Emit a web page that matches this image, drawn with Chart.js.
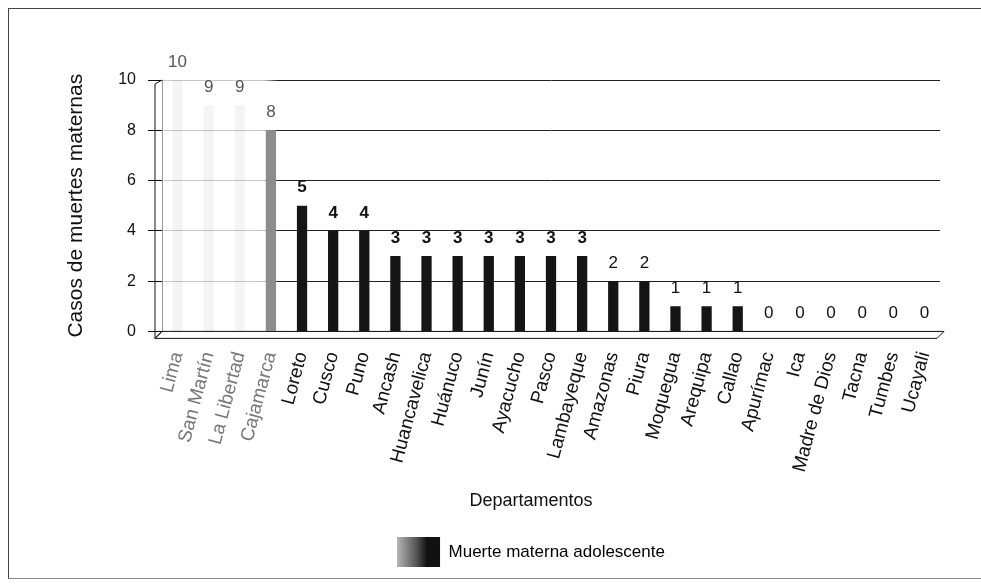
<!DOCTYPE html>
<html><head><meta charset="utf-8">
<script src="https://cdn.jsdelivr.net/npm/chart.js@4"></script>
<style>
html,body{margin:0;padding:0;background:#fff;overflow:hidden;width:981px;height:585px;}
#wrap{position:absolute;left:0;top:0;width:981px;height:585px;overflow:hidden;}
#frame{position:absolute;left:8px;top:8px;width:973px;height:571px;border-left:1px solid #444;border-top:1px solid #444;border-bottom:1px solid #888;box-sizing:border-box;}
#c{position:absolute;left:0;top:0;}
</style></head><body>
<div id="wrap">
<div id="frame"></div>
<canvas id="c" width="1062" height="585"></canvas>
</div>
<script>
const categories = ['Lima','San Martín','La Libertad','Cajamarca','Loreto','Cusco','Puno','Ancash','Huancavelica','Huánuco','Junín','Ayacucho','Pasco','Lambayeque','Amazonas','Piura','Moquegua','Arequipa','Callao','Apurímac','Ica','Madre de Dios','Tacna','Tumbes','Ucayali'];
const casos = [10,9,9,8,5,4,4,3,3,3,3,3,3,3,2,2,1,1,1,0,0,0,0,0,0];
const yTicks = [0,2,4,6,8,10];
const seriesName = 'Muerte materna adolescente';
const xTitle = 'Departamentos';
const yTitle = 'Casos de muertes maternas';

const FONT = "'Liberation Sans', Arial, sans-serif";
Chart.defaults.font.family = FONT;

const barColors = casos.map((v,i)=> i<3 ? 'rgba(0,0,0,0.045)' : (i===3 ? '#8c8c8c' : '#151515'));

function gridColor(c){
  const chart = c.chart; const ca = chart.chartArea;
  if(!ca) return '#222';
  const g = chart.ctx.createLinearGradient(ca.left,0,ca.right,0);
  g.addColorStop(0,'#c8c8c8'); g.addColorStop(0.13,'#c8c8c8'); g.addColorStop(0.15,'#222'); g.addColorStop(1,'#222');
  return g;
}

const deco = {
  id:'deco',
  beforeDatasetsDraw(chart){
    const {ctx, chartArea:{left,right,top,bottom}} = chart;
    const d = 7;
    ctx.save();
    ctx.strokeStyle='#111'; ctx.lineWidth=1;
    ctx.fillStyle='#fff';
    ctx.beginPath();
    ctx.moveTo(left,bottom); ctx.lineTo(right+4,bottom); ctx.lineTo(right-3,bottom+d); ctx.lineTo(left-d,bottom+d); ctx.closePath();
    ctx.fill(); ctx.stroke();
    ctx.beginPath(); ctx.moveTo(left-d, top+4); ctx.lineTo(left-d,bottom+d); ctx.stroke();
    ctx.beginPath(); ctx.moveTo(left-d, top+4); ctx.lineTo(left, top); ctx.stroke();
    ctx.beginPath(); ctx.moveTo(left-d, bottom+d); ctx.lineTo(left, bottom); ctx.stroke();
    ctx.restore();
  },
  afterDatasetsDraw(chart){
    const meta = chart.getDatasetMeta(0);
    const ctx = chart.ctx;
    ctx.save();
    ctx.textAlign='center'; ctx.textBaseline='middle';
    meta.data.forEach((bar,i)=>{
      const v = chart.data.datasets[0].data[i];
      ctx.fillStyle = i<4 ? '#555' : '#111';
      ctx.font = ((v>=3 && i>=4) ? 'bold ' : '') + '17px ' + FONT;
      ctx.fillText(String(v), bar.x, bar.y - 18);
    });
    ctx.restore();
  }
};

function legendLabels(chart){
  const ctx = chart.ctx;
  ctx.save(); ctx.font = '17px ' + FONT; const tw = ctx.measureText(seriesName).width; ctx.restore();
  const itemW = 43 + 8.5 + tw;
  const x0 = (chart.width - itemW) / 2;
  const g = ctx.createLinearGradient(x0,0,x0+43,0);
  g.addColorStop(0,'#b5b5b5'); g.addColorStop(0.45,'#555'); g.addColorStop(0.7,'#111'); g.addColorStop(1,'#111');
  return [{text:seriesName, fillStyle:g, strokeStyle:'#111', lineWidth:0, hidden:false, datasetIndex:0}];
}

new Chart(document.getElementById('c'), {
  type:'bar',
  data:{ labels: categories, datasets:[{ label: seriesName, data: casos, backgroundColor: barColors, borderWidth:0, barPercentage:0.33, categoryPercentage:1 }]},
  options:{
    responsive:false, animation:false, devicePixelRatio:1,
    layout:{ padding:{ left:0, right:0, top:80, bottom:8 } },
    plugins:{
      tooltip:{enabled:false},
      title:{ display:true, text:xTitle, position:'bottom', weight:500, color:'#111', font:{size:18, weight:'normal', family:FONT}, padding:{top:4,bottom:15} },
      legend:{ position:'bottom', labels:{ boxWidth:43, boxHeight:30, padding:10, color:'#111', font:{size:17,family:FONT}, generateLabels:legendLabels } }
    },
    scales:{
      x:{
        type:'category', offset:true,
        grid:{display:false, drawTicks:false},
        border:{display:false},
        ticks:{autoSkip:false, maxRotation:75, minRotation:75, padding:18, color:(c)=> c.index<4?'#777':'#111', font:{size:19, family:FONT}},
        afterFit(s){ s.height = 155; }
      },
      y:{
        min:0, max:10,
        afterBuildTicks(s){ s.ticks = yTicks.map(v=>({value:v})); },
        grid:{color: gridColor, tickColor:'#111', tickLength:14, lineWidth:1},
        border:{display:true, color:'#999'},
        ticks:{padding:12, color:'#111', font:{size:16, family:FONT}},
        title:{display:true, text:yTitle, color:'#111', font:{size:21, family:FONT}, padding:{top:64,bottom:0}},
        afterFit(s){ s.width = 162; }
      },
      yR:{ position:'right', display:true, grid:{display:false, drawTicks:false}, border:{display:false}, ticks:{display:false}, afterFit(s){ s.width = 122; } }
    }
  },
  plugins:[deco]
});
</script>
</body></html>
